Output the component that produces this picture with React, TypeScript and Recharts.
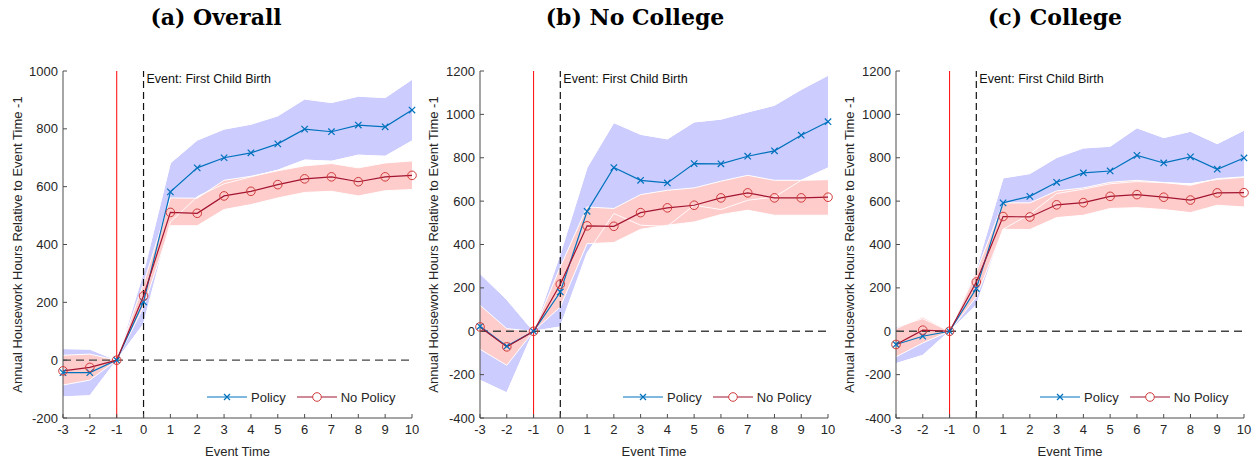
import React from 'react'
import {
  ComposedChart,
  Area,
  Line,
  XAxis,
  YAxis,
  ReferenceLine,
} from 'recharts'

// event time (x axis)
const eventTime = [-3, -2, -1, 0, 1, 2, 3, 4, 5, 6, 7, 8, 9, 10]

// (a) Overall
const overallPolicy = [-43, -43, 0, 202, 582, 665, 700, 717, 748, 799, 790, 813, 807, 865]
const overallNoPolicy = [-37, -25, 0, 222, 511, 508, 568, 584, 607, 627, 634, 617, 634, 639]
const overallPolicyLo = [-127, -123, 0, 125, 478, 565, 610, 634, 657, 692, 688, 709, 705, 758]
const overallPolicyHi = [40, 38, 0, 305, 682, 761, 799, 816, 845, 903, 891, 913, 908, 971]
const overallNoPolicyLo = [-86, -69, 0, 184, 465, 465, 521, 538, 561, 580, 584, 568, 586, 590]
const overallNoPolicyHi = [17, 21, 0, 265, 561, 560, 622, 636, 655, 672, 680, 665, 682, 689]

// (b) No College
const noCollegePolicy = [23, -69, 0, 181, 553, 755, 696, 684, 773, 772, 807, 832, 904, 966]
const noCollegeNoPolicy = [20, -72, 0, 217, 486, 484, 547, 569, 581, 615, 638, 615, 615, 618]
const noCollegePolicyLo = [-226, -284, 0, 20, 360, 543, 489, 484, 581, 561, 604, 619, 696, 753]
const noCollegePolicyHi = [266, 146, 0, 358, 755, 962, 908, 887, 965, 978, 1011, 1042, 1115, 1180]
const noCollegeNoPolicyLo = [-83, -157, 0, 112, 404, 409, 470, 489, 504, 538, 558, 535, 535, 535]
const noCollegeNoPolicyHi = [120, 12, 0, 297, 573, 566, 630, 650, 661, 692, 719, 696, 696, 699]

// (c) College
const collegePolicy = [-61, -23, 0, 197, 592, 622, 687, 730, 739, 811, 776, 804, 747, 799]
const collegeNoPolicy = [-61, 5, 0, 227, 529, 527, 583, 593, 622, 630, 618, 605, 638, 639]
const collegePolicyLo = [-149, -111, 0, 120, 470, 540, 635, 655, 680, 690, 685, 680, 700, 710]
const collegePolicyHi = [20, 58, 0, 290, 707, 727, 801, 845, 853, 938, 893, 922, 865, 927]
const collegeNoPolicyLo = [-118, -54, 0, 158, 470, 469, 524, 535, 566, 570, 561, 547, 581, 573]
const collegeNoPolicyHi = [12, 66, 0, 274, 592, 592, 647, 661, 687, 696, 686, 673, 704, 712]

const ticksA = [-200, 0, 200, 400, 600, 800, 1000]
const ticksBC = [-400, -200, 0, 200, 400, 600, 800, 1000, 1200]

const POLICY = '#0072BD'
const NO_POLICY = '#A2142F'
const NO_POLICY_MARK = '#cf3a3a'
const BAND_BLUE = '#ccccff'
const BAND_PINK = '#ffcccc'
const AXIS = '#4d4d4d'
const TEXT = '#262626'
const SANS = '"Liberation Sans", Arial, Helvetica, sans-serif'
const H = 459

const makeRows = (
  p: number[], np: number[], pLo: number[], pHi: number[], npLo: number[], npHi: number[],
) =>
  eventTime.map((t, i) => ({
    t,
    policy: p[i],
    noPolicy: np[i],
    pBand: [pLo[i], pHi[i]],
    npBand: [npLo[i], npHi[i]],
  }))

const XDot = (props: any) => {
  const { cx, cy, index } = props
  if (cx == null || cy == null) return <g key={`x-${index}`} />
  const s = 3.2
  return (
    <path
      key={`x-${index}`}
      d={`M${cx - s},${cy - s}L${cx + s},${cy + s}M${cx - s},${cy + s}L${cx + s},${cy - s}`}
      stroke={POLICY}
      strokeWidth={1.2}
      fill="none"
    />
  )
}

const ODot = (props: any) => {
  const { cx, cy, index } = props
  if (cx == null || cy == null) return <g key={`o-${index}`} />
  return <circle key={`o-${index}`} cx={cx} cy={cy} r={4.3} stroke={NO_POLICY_MARK} strokeWidth={1} fill="none" />
}

function LegendBox({ left }: { left: number }) {
  return (
    <div
      style={{
        position: 'absolute', left, top: 388, height: 18, display: 'flex', alignItems: 'center',
        fontFamily: SANS, fontSize: 13, color: TEXT, whiteSpace: 'nowrap',
      }}
    >
      <svg width={42} height={12}>
        <line x1={1} y1={6} x2={41} y2={6} stroke={POLICY} strokeWidth={1.2} />
        <path d="M18,3L24,9M18,9L24,3" stroke={POLICY} strokeWidth={1.2} />
      </svg>
      <span style={{ marginLeft: 3 }}>Policy</span>
      <svg width={42} height={12} style={{ marginLeft: 10 }}>
        <line x1={1} y1={6} x2={41} y2={6} stroke={NO_POLICY} strokeWidth={1.2} />
        <circle cx={21} cy={6} r={4.3} stroke={NO_POLICY_MARK} fill="#fff" />
      </svg>
      <span style={{ marginLeft: 3 }}>No Policy</span>
    </div>
  )
}

type PanelProps = {
  title: string
  left: number
  width: number
  plotLeft: number
  plotRight: number
  titleCenter: number
  yDomain: [number, number]
  yTicks: number[]
  yLabelX: number
  legendLeft: number
  rows: ReturnType<typeof makeRows>
}

function Panel({ title, left, width, plotLeft, plotRight, titleCenter, yDomain, yTicks, yLabelX, legendLeft, rows }: PanelProps) {
  const tickStyle = { fill: TEXT, fontSize: 13, fontFamily: SANS }
  return (
    <div style={{ position: 'absolute', left, top: 0, width, height: H }}>
      <div
        style={{
          position: 'absolute', top: 4, left: 0, width: titleCenter * 2, textAlign: 'center', whiteSpace: 'nowrap',
          fontFamily: '"DejaVu Serif", "Liberation Serif", serif', fontWeight: 'bold', fontSize: 22, color: '#000',
        }}
      >
        {title}
      </div>
      <ComposedChart
        width={width}
        height={H}
        data={rows}
        margin={{ top: 71, right: width - plotRight, bottom: 0, left: 0 }}
      >
        <XAxis
          dataKey="t"
          type="number"
          domain={[-3, 10]}
          ticks={eventTime}
          height={41}
          tickSize={-4}
          tickMargin={11}
          tick={tickStyle}
          axisLine={{ stroke: AXIS }}
          tickLine={{ stroke: AXIS }}
          label={{ value: 'Event Time', position: 'insideBottom', offset: 3, fill: TEXT, fontSize: 13, fontFamily: SANS }}
        />
        <XAxis
          xAxisId="top"
          orientation="top"
          dataKey="t"
          type="number"
          domain={[-3, 10]}
          ticks={eventTime}
          height={0}
          tickSize={-4}
          tick={false}
          axisLine={{ stroke: AXIS }}
          tickLine={{ stroke: AXIS }}
        />
        <YAxis
          type="number"
          domain={yDomain}
          ticks={yTicks}
          width={plotLeft}
          tickSize={-4}
          tickMargin={9}
          tick={tickStyle}
          axisLine={{ stroke: AXIS }}
          tickLine={{ stroke: AXIS }}
          label={{
            value: 'Annual Housework Hours Relative to Event Time -1',
            angle: -90,
            position: 'insideLeft',
            offset: yLabelX,
            style: { textAnchor: 'middle', fill: TEXT, fontSize: 13, fontFamily: SANS },
          }}
        />
        <YAxis
          yAxisId="right"
          orientation="right"
          type="number"
          domain={yDomain}
          ticks={yTicks}
          width={0}
          tickSize={-4}
          tick={false}
          axisLine={{ stroke: AXIS }}
          tickLine={{ stroke: AXIS }}
        />
        <Area type="linear" dataKey="pBand" fill={BAND_BLUE} fillOpacity={1} stroke="#fff" strokeWidth={1} dot={false} activeDot={false} isAnimationActive={false} />
        <Area type="linear" dataKey="npBand" fill={BAND_PINK} fillOpacity={1} stroke="#fff" strokeWidth={1} dot={false} activeDot={false} isAnimationActive={false} />
        <Area type="linear" dataKey="pBand" fill="none" stroke="#fff" strokeWidth={0.9} dot={false} activeDot={false} isAnimationActive={false} />
        <ReferenceLine y={0} stroke="#444" strokeWidth={1.3} strokeDasharray="8 5" />
        <ReferenceLine x={-1} stroke="#ff1a1a" strokeWidth={1.1} />
        <ReferenceLine
          x={0}
          stroke="#111"
          strokeWidth={1.2}
          strokeDasharray="7 4"
          label={{ value: 'Event: First Child Birth', position: 'insideTopLeft', offset: 3, fill: '#111', fontSize: 12.5, fontFamily: SANS }}
        />
        <Line type="linear" dataKey="policy" stroke={POLICY} strokeWidth={1.2} dot={XDot} activeDot={false} isAnimationActive={false} />
        <Line type="linear" dataKey="noPolicy" stroke={NO_POLICY} strokeWidth={1.2} dot={ODot} activeDot={false} isAnimationActive={false} />
      </ComposedChart>
      <LegendBox left={legendLeft} />
    </div>
  )
}

export default function App() {
  return (
    <div style={{ position: 'relative', width: 1256, height: H, background: '#fff', overflow: 'hidden' }}>
      <style>{'body{margin:0}'}</style>
      <Panel
        title="(a) Overall"
        left={0}
        width={420}
        plotLeft={63}
        plotRight={412}
        titleCenter={216}
        yDomain={[-200, 1000]}
        yTicks={ticksA}
        yLabelX={17}
        legendLeft={206}
        rows={makeRows(overallPolicy, overallNoPolicy, overallPolicyLo, overallPolicyHi, overallNoPolicyLo, overallNoPolicyHi)}
      />
      <Panel
        title="(b) No College"
        left={420}
        width={418}
        plotLeft={60}
        plotRight={408}
        titleCenter={215}
        yDomain={[-400, 1200]}
        yTicks={ticksBC}
        yLabelX={13}
        legendLeft={202}
        rows={makeRows(noCollegePolicy, noCollegeNoPolicy, noCollegePolicyLo, noCollegePolicyHi, noCollegeNoPolicyLo, noCollegeNoPolicyHi)}
      />
      <Panel
        title="(c) College"
        left={838}
        width={418}
        plotLeft={58}
        plotRight={406}
        titleCenter={217}
        yDomain={[-400, 1200]}
        yTicks={ticksBC}
        yLabelX={11}
        legendLeft={201}
        rows={makeRows(collegePolicy, collegeNoPolicy, collegePolicyLo, collegePolicyHi, collegeNoPolicyLo, collegeNoPolicyHi)}
      />
    </div>
  )
}
